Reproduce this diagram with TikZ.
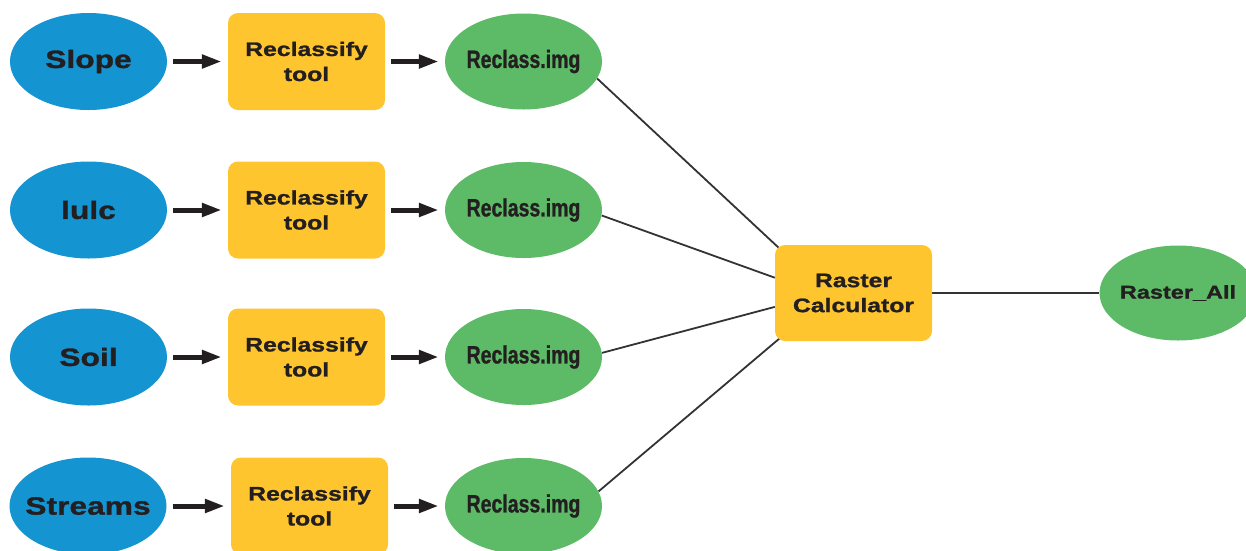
\documentclass[tikz,border=0pt]{standalone}
\usepackage{fontspec}
\newfontfamily\widefont[FakeStretch=1.27,FakeBold=1.2]{Liberation Sans Bold}
\newfontfamily\narrowfont[FakeStretch=0.78,FakeBold=1]{Liberation Sans Bold}
\usetikzlibrary{arrows.meta,shapes.geometric,backgrounds}
\definecolor{inblue}{HTML}{1594D2}
\definecolor{toolyellow}{HTML}{FEC52E}
\definecolor{outgreen}{HTML}{5DBB67}
\definecolor{ink}{HTML}{231F20}
\definecolor{wire}{HTML}{333333}
\newcommand{\fixw}[1]{\makebox[0pt]{#1}}
\begin{document}
\begin{tikzpicture}[x=1pt,y=-1pt,
  inputnode/.style={ellipse,fill=inblue,minimum width=157pt,minimum height=97pt,inner sep=0pt,text=ink,font=\widefont\fontsize{25}{25}\selectfont},
  toolbox/.style={rectangle,rounded corners=10pt,fill=toolyellow,minimum width=157pt,minimum height=97pt,inner sep=0pt,align=center,text=ink,font=\widefont\fontsize{19.5}{25}\selectfont},
  outnode/.style={ellipse,fill=outgreen,minimum width=157pt,minimum height=96pt,inner sep=0pt,text=ink,font=\narrowfont\fontsize{25}{25}\selectfont},
  finalnode/.style={ellipse,fill=outgreen,minimum width=157pt,minimum height=95pt,inner sep=0pt,text=ink,font=\widefont\fontsize{18.5}{20}\selectfont},
  flow/.style={-{Triangle[length=20pt,width=13pt]},line width=5pt,draw=ink,shorten <=6pt,shorten >=6pt},
  wirel/.style={draw=wire,line width=1.8pt}]
\useasboundingbox (0,0) rectangle (1246,550);
% row 1
\node[inputnode] (s1) at (88.5,61.5) {\fixw{Slope}};
\node[toolbox] (b1) at (306.5,61.5) {Reclassify\\tool};
\node[outnode] (r1) at (523.5,61.5) {\fixw{Reclass.img}};
% row 2
\node[inputnode] (s2) at (88.5,210) {\fixw{lulc}};
\node[toolbox] (b2) at (306.5,210) {Reclassify\\tool};
\node[outnode] (r2) at (523.5,210) {\fixw{Reclass.img}};
% row 3
\node[inputnode] (s3) at (88.5,357) {\fixw{Soil}};
\node[toolbox] (b3) at (306.5,357) {Reclassify\\tool};
\node[outnode] (r3) at (523.5,357) {\fixw{Reclass.img}};
% row 4
\node[inputnode] (s4) at (88,506) {\fixw{Streams}};
\node[toolbox] (b4) at (309.5,506) {Reclassify\\tool};
\node[outnode] (r4) at (523.5,506) {\fixw{Reclass.img}};
% merge
\node[toolbox,minimum height=96pt] (calc) at (853.5,293) {Raster\\Calculator};
\node[finalnode] (rall) at (1178,293) {\fixw{Raster\_All}};
% arrows
\foreach \i in {1,2,3,4}{
  \draw[flow] (s\i) -- (b\i);
  \draw[flow] (b\i) -- (r\i);
}
\begin{scope}[on background layer]
\draw[wirel] (r1.-13) -- ([shift={(5,4)}]calc.north west);
\draw[wirel] (r2.-4) -- (calc.169);
\draw[wirel] (r3.3) -- (calc.190);
\draw[wirel] (r4.11) -- ([shift={(5,-3)}]calc.south west);
\draw[wirel] (calc.east) -- (rall.west);
\end{scope}
\end{tikzpicture}
\end{document}
